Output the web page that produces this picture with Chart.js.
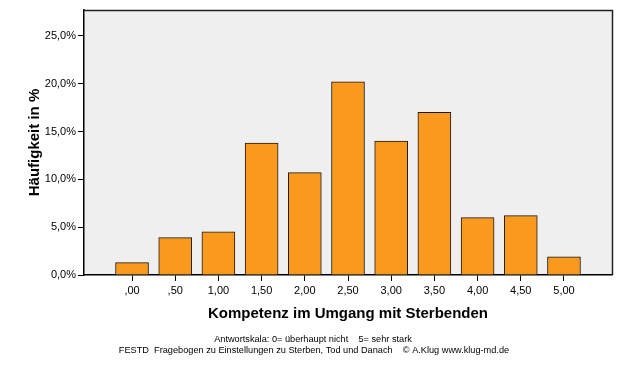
<!DOCTYPE html>
<html lang="de">
<head>
    <meta charset="UTF-8">
    <title>Kompetenz im Umgang mit Sterbenden</title>
    <style>
        * {
            padding: 0;
            margin: 0;
            box-sizing: border-box;
        }

        body {
            background: #ffffff;
            width: 626px;
            height: 366px;
            overflow: hidden;
        }

        #chart {
            display: block;
        }
    </style>
</head>
<body>
    <canvas id="chart" width="626" height="366"></canvas>
    <script src="https://cdn.jsdelivr.net/npm/chart.js@4/dist/chart.umd.min.js"></script>
    <script>
        // Antwortwerte (x) und Häufigkeit in Prozent (y)
        const scaleValues = [0, 0.5, 1, 1.5, 2, 2.5, 3, 3.5, 4, 4.5, 5];
        const tickLabels = [",00", ",50", "1,00", "1,50", "2,00", "2,50", "3,00", "3,50", "4,00", "4,50", "5,00"];
        const percentages = [1.3, 3.9, 4.5, 13.8, 10.7, 20.2, 14.0, 17.0, 6.0, 6.2, 1.9];

        const footerLines = [
            "Antwortskala: 0= überhaupt nicht    5= sehr stark",
            "FESTD  Fragebogen zu Einstellungen zu Sterben, Tod und Danach    © A.Klug www.klug-md.de",
        ];

        const font = "'Liberation Sans', Arial, sans-serif";

        // grauer Plotbereich mit Rahmen
        const plotBackground = {
            id: "plotBackground",
            beforeDraw(chart) {
                const { ctx, chartArea: a } = chart;
                ctx.save();
                ctx.fillStyle = "#efefef";
                ctx.fillRect(a.left, a.top, a.right - a.left, a.bottom - a.top);
                ctx.restore();
            },
            afterDraw(chart) {
                const { ctx, chartArea: a } = chart;
                ctx.save();
                ctx.strokeStyle = "#222222";
                ctx.lineWidth = 1.5;
                ctx.beginPath();
                ctx.moveTo(a.left, a.top + 0.5);
                ctx.lineTo(a.right + 0.5, a.top + 0.5);
                ctx.lineTo(a.right + 0.5, a.bottom);
                ctx.stroke();

                ctx.fillStyle = "#000000";
                ctx.font = "9.2px " + font;
                ctx.textAlign = "center";
                ctx.textBaseline = "middle";
                ctx.fillText(footerLines[0], 313, 339);
                ctx.fillText(footerLines[1], 314, 350);
                ctx.restore();
            },
        };

        const data = scaleValues.map((x, i) => ({ x: x, y: percentages[i] }));

        new Chart(document.getElementById("chart"), {
            type: "bar",
            plugins: [plotBackground],
            data: {
                datasets: [{
                    data: data,
                    backgroundColor: "#f99a1f",
                    borderColor: "#1a1a1a",
                    borderWidth: 1,
                    barThickness: 33,
                }],
            },
            options: {
                responsive: false,
                animation: false,
                devicePixelRatio: 1,
                layout: {
                    padding: { top: 10, right: 14, bottom: 43, left: 0 },
                },
                plugins: {
                    legend: { display: false },
                    tooltip: { enabled: false },
                },
                scales: {
                    x: {
                        type: "linear",
                        min: -0.556,
                        max: 5.556,
                        offset: false,
                        afterFit: (s) => { s.height = 48; },
                        afterBuildTicks: (s) => {
                            s.ticks = scaleValues.map((v) => ({ value: v }));
                        },
                        grid: {
                            offset: false,
                            drawOnChartArea: false,
                            tickLength: 6,
                            tickColor: "#000000",
                        },
                        border: { color: "#000000", width: 1.5 },
                        ticks: {
                            padding: 3,
                            color: "#000000",
                            maxRotation: 0,
                            autoSkip: false,
                            font: { family: font, size: 11 },
                            callback: (v) => tickLabels[scaleValues.indexOf(v)],
                        },
                        title: {
                            display: true,
                            text: "Kompetenz im Umgang mit Sterbenden",
                            color: "#000000",
                            padding: 0,
                            font: { family: font, size: 15, weight: "bold" },
                        },
                    },
                    y: {
                        min: 0,
                        max: 27.7,
                        afterFit: (s) => { s.width = 84; },
                        grid: {
                            drawOnChartArea: false,
                            tickLength: 6,
                            tickColor: "#000000",
                        },
                        border: { color: "#000000", width: 1.5 },
                        ticks: {
                            stepSize: 5,
                            includeBounds: false,
                            padding: 2,
                            color: "#000000",
                            font: { family: font, size: 11 },
                            callback: (v) => v.toFixed(1).replace(".", ",") + "%",
                        },
                        title: {
                            display: true,
                            text: "Häufigkeit in %",
                            color: "#000000",
                            padding: { top: 26, bottom: 0 },
                            font: { family: font, size: 15, weight: "bold" },
                        },
                    },
                },
            },
        });
    </script>
</body>
</html>
